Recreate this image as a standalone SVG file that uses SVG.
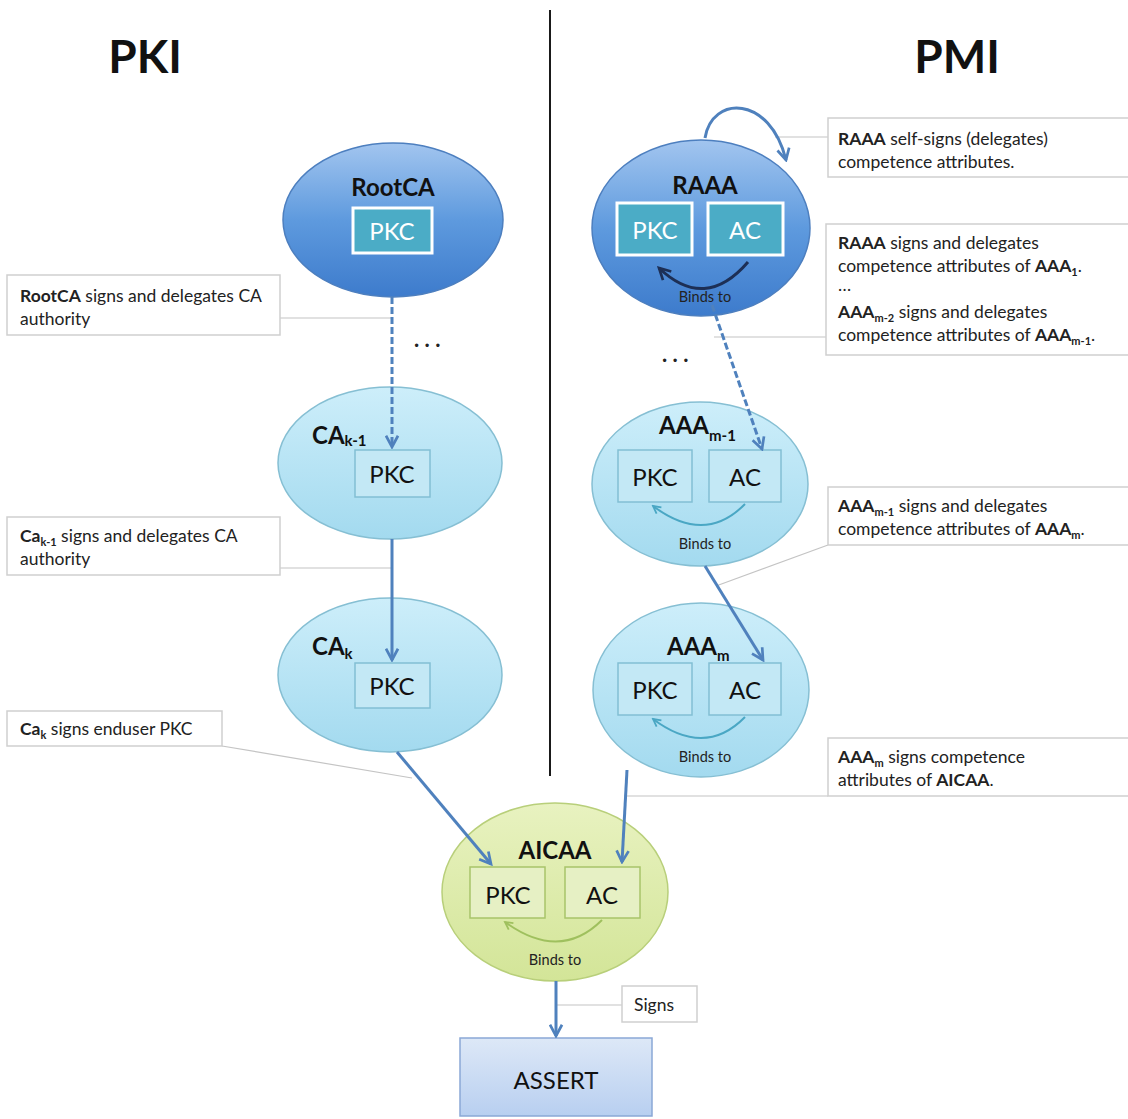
<svg xmlns="http://www.w3.org/2000/svg" width="1128" height="1119" viewBox="0 0 1128 1119">
<defs>
  <linearGradient id="gDark" x1="0" y1="0" x2="0" y2="1">
    <stop offset="0" stop-color="#a2c5ef"/>
    <stop offset="0.5" stop-color="#5e9ade"/>
    <stop offset="1" stop-color="#3d7bcc"/>
  </linearGradient>
  <linearGradient id="gCyan" x1="0" y1="0" x2="0" y2="1">
    <stop offset="0" stop-color="#cdeefa"/>
    <stop offset="1" stop-color="#a3daef"/>
  </linearGradient>
  <linearGradient id="gGreen" x1="0" y1="0" x2="0" y2="1">
    <stop offset="0" stop-color="#e8f2c0"/>
    <stop offset="1" stop-color="#d3e598"/>
  </linearGradient>
  <linearGradient id="gAssert" x1="0" y1="0" x2="0" y2="1">
    <stop offset="0" stop-color="#dde8f7"/>
    <stop offset="1" stop-color="#b8cff0"/>
  </linearGradient>
  <marker id="arr" viewBox="0 0 10 10" refX="8.5" refY="5" markerWidth="5" markerHeight="5" orient="auto" markerUnits="strokeWidth">
    <path d="M1,1 L8.5,5 L1,9" fill="none" stroke="#4f81bd" stroke-width="1.8" stroke-linejoin="miter"/>
  </marker>
  <marker id="arrNavy" viewBox="0 0 10 10" refX="8.5" refY="5" markerWidth="5" markerHeight="5" orient="auto" markerUnits="strokeWidth">
    <path d="M1,1 L8.5,5 L1,9" fill="none" stroke="#1d2f55" stroke-width="1.8"/>
  </marker>
  <marker id="arrTeal" viewBox="0 0 10 10" refX="8.5" refY="5" markerWidth="5" markerHeight="5" orient="auto" markerUnits="strokeWidth">
    <path d="M1,1 L8.5,5 L1,9" fill="none" stroke="#4aa7c4" stroke-width="1.8"/>
  </marker>
  <marker id="arrGreen" viewBox="0 0 10 10" refX="8.5" refY="5" markerWidth="5" markerHeight="5" orient="auto" markerUnits="strokeWidth">
    <path d="M1,1 L8.5,5 L1,9" fill="none" stroke="#9fc05e" stroke-width="1.8"/>
  </marker>
</defs>
<style>
  text { font-family: Lato, "Open Sans", "Liberation Sans", sans-serif; fill: #111; }
  .title { font-size: 46px; font-weight: bold; text-anchor: middle; }
  .nodeT { font-size: 24px; font-weight: bold; }
  .sub { font-size: 15px; font-weight: bold; }
  .box { font-size: 24px; text-anchor: middle; }
  .boxW { font-size: 24px; text-anchor: middle; fill: #ffffff; }
  .binds { font-size: 14.5px; text-anchor: middle; fill: #222; }
  .note { font-size: 17.5px; fill: #222; }
  .noteSub { font-size: 11px; font-weight: bold; }
  .dots { font-size: 22px; font-weight: bold; fill: #222; }
  .ellDark { fill: url(#gDark); stroke: #4d7fbf; stroke-width: 1.5; }
  .ellCyan { fill: url(#gCyan); stroke: #86bfd3; stroke-width: 1.5; }
  .ellGreen { fill: url(#gGreen); stroke: #b8cf7a; stroke-width: 1.5; }
  .rDark { fill: #4bacc6; stroke: #ffffff; stroke-width: 3; }
  .rCyan { fill: #c3e8f5; stroke: #82bfd4; stroke-width: 1.5; }
  .rGreen { fill: #e6f0c4; stroke: #a8c46a; stroke-width: 1.5; }
  .callout { fill: #ffffff; stroke: #cfcfcf; stroke-width: 1.5; }
  .leader { stroke: #c4c4c4; stroke-width: 1.2; fill: none; }
  .conn { stroke: #4f81bd; stroke-width: 3; fill: none; marker-end: url(#arr); }
  .dash { stroke-dasharray: 7 3; }
</style>

<!-- titles and divider -->
<g id="titles">
  <text class="title" x="145" y="73">PKI</text>
  <text class="title" x="957" y="73">PMI</text>
  <line x1="550" y1="10" x2="550" y2="776" stroke="#1a1a1a" stroke-width="2"/>
</g>

<!-- leader lines -->
<g id="leaders">
  <line class="leader" x1="280" y1="318" x2="392" y2="318"/>
  <line class="leader" x1="280" y1="568" x2="392" y2="568"/>
  <line class="leader" x1="222" y1="746" x2="412" y2="778"/>
  <line class="leader" x1="775" y1="137" x2="828" y2="137"/>
  <line class="leader" x1="714" y1="337" x2="826" y2="337"/>
  <line class="leader" x1="828" y1="545" x2="716" y2="586"/>
  <line class="leader" x1="626" y1="796" x2="828" y2="796"/>
  <line class="leader" x1="557" y1="1005" x2="622" y2="1005"/>
</g>

<!-- callouts -->
<g id="callout-rootca">
  <rect class="callout" x="7" y="275" width="273" height="60"/>
  <text class="note" x="20" y="302"><tspan font-weight="bold">RootCA</tspan> signs and delegates CA</text>
  <text class="note" x="20" y="325">authority</text>
</g>
<g id="callout-cak1">
  <rect class="callout" x="7" y="517" width="273" height="58"/>
  <text class="note" x="20" y="542"><tspan font-weight="bold">Ca</tspan><tspan class="noteSub" dy="4">k-1</tspan><tspan dy="-4"> signs and delegates CA</tspan></text>
  <text class="note" x="20" y="565">authority</text>
</g>
<g id="callout-cak">
  <rect class="callout" x="7" y="711" width="215" height="35"/>
  <text class="note" x="20" y="735"><tspan font-weight="bold">Ca</tspan><tspan class="noteSub" dy="4">k</tspan><tspan dy="-4"> signs enduser PKC</tspan></text>
</g>
<g id="callout-raaa-self">
  <rect class="callout" x="828" y="118" width="310" height="59"/>
  <text class="note" x="838" y="145"><tspan font-weight="bold">RAAA</tspan> self-signs (delegates)</text>
  <text class="note" x="838" y="168">competence attributes.</text>
</g>
<g id="callout-raaa-deleg">
  <rect class="callout" x="826" y="224" width="312" height="131"/>
  <text class="note" x="838" y="249"><tspan font-weight="bold">RAAA</tspan> signs and delegates</text>
  <text class="note" x="838" y="272">competence attributes of <tspan font-weight="bold">AAA</tspan><tspan class="noteSub" dy="4">1</tspan><tspan dy="-4">.</tspan></text>
  <text class="note" x="838" y="291" font-size="11">…</text>
  <text class="note" x="838" y="318"><tspan font-weight="bold">AAA</tspan><tspan class="noteSub" dy="4">m-2</tspan><tspan dy="-4"> signs and delegates</tspan></text>
  <text class="note" x="838" y="341">competence attributes of <tspan font-weight="bold">AAA</tspan><tspan class="noteSub" dy="4">m-1</tspan><tspan dy="-4">.</tspan></text>
</g>
<g id="callout-aaam1">
  <rect class="callout" x="828" y="487" width="310" height="58"/>
  <text class="note" x="838" y="512"><tspan font-weight="bold">AAA</tspan><tspan class="noteSub" dy="4">m-1</tspan><tspan dy="-4"> signs and delegates</tspan></text>
  <text class="note" x="838" y="535">competence attributes of <tspan font-weight="bold">AAA</tspan><tspan class="noteSub" dy="4">m</tspan><tspan dy="-4">.</tspan></text>
</g>
<g id="callout-aaam">
  <rect class="callout" x="828" y="738" width="310" height="58"/>
  <text class="note" x="838" y="763"><tspan font-weight="bold">AAA</tspan><tspan class="noteSub" dy="4">m</tspan><tspan dy="-4"> signs competence</tspan></text>
  <text class="note" x="838" y="786">attributes of <tspan font-weight="bold">AICAA</tspan>.</text>
</g>
<g id="callout-signs">
  <rect class="callout" x="622" y="986" width="75" height="36"/>
  <text class="note" x="634" y="1011">Signs</text>
</g>

<!-- nodes -->
<g id="node-rootca">
  <ellipse class="ellDark" cx="393" cy="220" rx="110" ry="77"/>
  <text class="nodeT" x="393" y="196" text-anchor="middle">RootCA</text>
  <rect class="rDark" x="353" y="208" width="79" height="45"/>
  <text class="boxW" x="392" y="240">PKC</text>
</g>
<g id="node-cak1">
  <ellipse class="ellCyan" cx="390" cy="463" rx="112" ry="76"/>
  <text class="nodeT" x="312" y="444">CA<tspan class="sub" dy="2">k-1</tspan></text>
  <rect class="rCyan" x="355" y="450" width="75" height="47"/>
  <text class="box" x="392" y="483">PKC</text>
</g>
<g id="node-cak">
  <ellipse class="ellCyan" cx="390" cy="675" rx="112" ry="77"/>
  <text class="nodeT" x="312" y="655">CA<tspan class="sub" dy="4">k</tspan></text>
  <rect class="rCyan" x="355" y="663" width="75" height="45"/>
  <text class="box" x="392" y="695">PKC</text>
</g>
<g id="node-raaa">
  <ellipse class="ellDark" cx="701" cy="228" rx="109" ry="88"/>
  <text class="nodeT" x="705" y="194" text-anchor="middle">RAAA</text>
  <rect class="rDark" x="617" y="203" width="75" height="52"/>
  <text class="boxW" x="655" y="239">PKC</text>
  <rect class="rDark" x="708" y="203" width="75" height="52"/>
  <text class="boxW" x="745" y="239">AC</text>
  <path d="M748,262 Q705,312 659,268" fill="none" stroke="#1d2f55" stroke-width="3" marker-end="url(#arrNavy)"/>
  <text class="binds" x="705" y="302">Binds to</text>
</g>
<g id="node-aaam1">
  <ellipse class="ellCyan" cx="700" cy="484" rx="108" ry="82"/>
  <text class="nodeT" x="659" y="434">AAA<tspan class="sub" dy="7">m-1</tspan></text>
  <rect class="rCyan" x="618" y="450" width="74" height="52"/>
  <text class="box" x="655" y="486">PKC</text>
  <rect class="rCyan" x="709" y="450" width="72" height="52"/>
  <text class="box" x="745" y="486">AC</text>
  <path d="M745,504 Q705,545 653,506" fill="none" stroke="#4aa7c4" stroke-width="2" marker-end="url(#arrTeal)"/>
  <text class="binds" x="705" y="549">Binds to</text>
</g>
<g id="node-aaam">
  <ellipse class="ellCyan" cx="701" cy="690" rx="108" ry="87"/>
  <text class="nodeT" x="667" y="655">AAA<tspan class="sub" dy="6">m</tspan></text>
  <rect class="rCyan" x="618" y="663" width="74" height="52"/>
  <text class="box" x="655" y="699">PKC</text>
  <rect class="rCyan" x="709" y="663" width="72" height="52"/>
  <text class="box" x="745" y="699">AC</text>
  <path d="M745,717 Q705,758 653,719" fill="none" stroke="#4aa7c4" stroke-width="2" marker-end="url(#arrTeal)"/>
  <text class="binds" x="705" y="762">Binds to</text>
</g>
<g id="node-aicaa">
  <ellipse class="ellGreen" cx="555" cy="892" rx="113" ry="89"/>
  <text class="nodeT" x="555" y="859" text-anchor="middle">AICAA</text>
  <rect class="rGreen" x="470" y="867" width="75" height="51"/>
  <text class="box" x="508" y="904">PKC</text>
  <rect class="rGreen" x="565" y="867" width="75" height="51"/>
  <text class="box" x="602" y="904">AC</text>
  <path d="M602,920 Q560,962 505,922" fill="none" stroke="#9fc05e" stroke-width="2" marker-end="url(#arrGreen)"/>
  <text class="binds" x="555" y="965">Binds to</text>
</g>
<g id="node-assert">
  <rect x="460" y="1038" width="192" height="78" fill="url(#gAssert)" stroke="#8aa8d6" stroke-width="1.5"/>
  <text class="box" x="556" y="1089">ASSERT</text>
</g>

<!-- ellipsis dots -->
<g id="dots">
  <text class="dots" x="414" y="347">. . .</text>
  <text class="dots" x="662" y="362">. . .</text>
</g>

<!-- connectors -->
<g id="connectors">
  <path class="conn dash" d="M392,297 L392,447"/>
  <path class="conn" d="M392,539 L392,660"/>
  <path class="conn" d="M397,752 L491,864"/>
  <path class="conn" d="M705,138 C712,95 770,95 786,160"/>
  <path class="conn dash" d="M712,305 L762,449"/>
  <path class="conn" d="M705,566 L763,660"/>
  <path class="conn" d="M627,770 L622,862"/>
  <path class="conn" d="M556,981 L556,1036"/>
</g>
</svg>
